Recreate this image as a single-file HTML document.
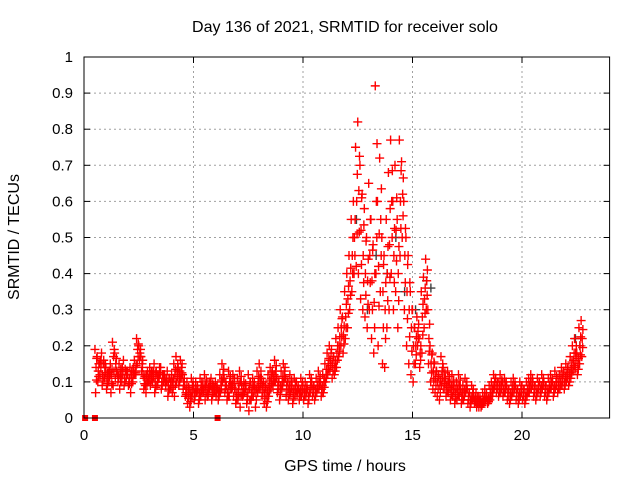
<!DOCTYPE html>
<html><head><meta charset="utf-8"><style>
body{margin:0;background:#fff;}
svg{display:block;font-family:"Liberation Sans",sans-serif;}
</style></head><body>
<svg id="chart" width="640" height="480" viewBox="0 0 640 480">
<rect width="640" height="480" fill="#fff"/>
<g id="grid"></g>
<g id="points"></g>
<rect x="84" y="57" width="525.6" height="361" fill="none" stroke="#000" stroke-width="1"/>
<g id="ticks"></g>
<text x="345" y="32" font-size="16" text-anchor="middle">Day 136 of 2021, SRMTID for receiver solo</text>
<text x="345" y="471" font-size="16" text-anchor="middle">GPS time / hours</text>
<text transform="translate(19,237) rotate(-90)" font-size="16" text-anchor="middle">SRMTID / TECUs</text>
</svg>
<script>
const xTicks=[0,5,10,15,20];
const yTicks=[0,0.1,0.2,0.3,0.4,0.5,0.6,0.7,0.8,0.9,1];
const yTickLabels=["0","0.1","0.2","0.3","0.4","0.5","0.6","0.7","0.8","0.9","1"];
const tStart=0.5, tStep=0.1;
const seriesA=[.19,.17,.15,.18,.16,
.14,.12,.15,.21,.18,.13,.15,.12,.16,.13,
.12,.14,.11,.16,.22,.2,.17,.12,.09,.13,
.14,.12,.15,.13,.11,.14,.12,.1,.13,.11,
.12,.15,.17,.14,.16,.12,.09,.1,.08,.11,
.09,.1,.08,.11,.09,.12,.1,.08,.11,.09,
.1,.08,.12,.15,.11,.09,.13,.1,.12,.08,
.11,.13,.09,.1,.08,.12,.1,.11,.09,.13,
.15,.11,.1,.09,.12,.14,.13,.16,.11,.1,
.13,.15,.11,.1,.12,.09,.11,.1,.08,.11,
.09,.1,.08,.12,.1,.09,.11,.13,.1,.12,
.15,.18,.2,.19,.17,.22,.25,.3,.28,.35,
.4,.45,.55,.6,.75,.82,.7,.62,.58,.5,
.65,.55,.48,.92,.6,.72,.5,.45,.55,.68,
.77,.6,.7,.55,.77,.71,.6,.5,.45,.35,
.3,.25,.28,.22,.35,.39,.44,.3,.2,.18,
.15,.13,.12,.17,.14,.11,.13,.1,.12,.09,
.1,.12,.08,.09,.11,.08,.07,.09,.06,.07,
.06,.05,.07,.08,.06,.09,.1,.12,.11,.1,
.12,.1,.11,.09,.08,.1,.11,.09,.08,.1,
.09,.08,.1,.11,.12,.1,.09,.11,.1,.12,
.1,.09,.11,.12,.1,.13,.11,.12,.14,.13,
.15,.14,.17,.2,.22,.18,.25,.27];
const seriesB=[.07,.1,.12,.09,.11,
.08,.1,.07,.09,.11,.12,.08,.1,.09,.11,
.09,.07,.1,.12,.15,.16,.13,.08,.07,.1,
.09,.1,.07,.09,.11,.08,.1,.09,.06,.08,
.07,.06,.1,.09,.11,.08,.06,.04,.03,.06,
.05,.07,.04,.06,.07,.05,.06,.08,.05,.07,
.06,.05,.07,.1,.07,.05,.06,.08,.06,.04,
.05,.03,.06,.07,.04,.02,.05,.06,.03,.07,
.08,.06,.04,.03,.06,.08,.09,.1,.07,.05,
.08,.1,.06,.05,.07,.04,.06,.07,.05,.06,
.05,.06,.04,.07,.06,.05,.07,.08,.06,.07,
.1,.12,.13,.11,.12,.14,.17,.2,.18,.22,
.25,.3,.35,.4,.42,.4,.33,.3,.28,.25,
.3,.22,.18,.4,.2,.35,.15,.14,.25,.3,
.4,.3,.35,.25,.45,.5,.3,.2,.15,.12,
.1,.15,.2,.14,.18,.25,.3,.15,.1,.08,
.07,.06,.05,.09,.08,.06,.07,.05,.06,.04,
.05,.06,.04,.05,.07,.04,.03,.05,.04,.03,
.03,.03,.04,.05,.04,.05,.06,.08,.07,.06,
.07,.06,.07,.05,.04,.06,.07,.05,.04,.06,
.05,.04,.06,.07,.08,.06,.05,.07,.06,.08,
.06,.05,.07,.08,.06,.08,.07,.08,.09,.08,
.1,.09,.11,.13,.14,.12,.15,.17];
const seriesC=[.14,.13,.16,.12,.14,
.11,.13,.12,.17,.15,.1,.12,.14,.11,.13,
.1,.12,.14,.13,.19,.18,.15,.11,.12,.11,
.12,.13,.1,.11,.14,.1,.12,.11,.09,.1,
.1,.12,.13,.12,.14,.1,.07,.07,.06,.09,
.07,.08,.06,.09,.08,.09,.07,.1,.08,.08,
.08,.07,.09,.12,.09,.07,.1,.09,.1,.06,
.08,.1,.07,.09,.06,.08,.07,.09,.07,.1,
.11,.09,.07,.06,.09,.11,.11,.13,.09,.08,
.1,.13,.09,.08,.09,.07,.09,.08,.07,.09,
.07,.08,.06,.1,.08,.07,.09,.1,.08,.1,
.12,.15,.16,.15,.14,.18,.2,.25,.23,.28,
.33,.38,.45,.5,.6,.63,.52,.45,.4,.38,
.45,.38,.32,.6,.42,.55,.35,.3,.4,.48,
.6,.45,.52,.4,.6,.62,.45,.35,.3,.25,
.2,.2,.24,.18,.28,.33,.38,.22,.15,.13,
.11,.1,.09,.13,.11,.09,.1,.08,.09,.07,
.08,.09,.06,.07,.09,.06,.05,.07,.05,.05,
.05,.04,.05,.06,.05,.07,.08,.1,.09,.08,
.09,.08,.09,.07,.06,.08,.09,.07,.06,.08,
.07,.06,.08,.09,.1,.08,.07,.09,.08,.1,
.08,.07,.09,.1,.08,.1,.09,.1,.11,.1,
.12,.11,.14,.16,.18,.15,.2,.22];
const grayTimes=[12.4,12.9,13.3,13.8,14.2,14.6,15.1,15.6,15.8,22.4,22.6];
const grayValues=[.55,.3,.45,.4,.5,.35,.3,.38,.36,.22,.2];
const zeroTimes=[0.05,0.5,6.1];

const X0=84,X1=609.6,Y0=418,Y1=57,XMAX=24,YMAX=1;
const xs=v=>X0+(X1-X0)*v/XMAX;
const ys=v=>Y0-(Y0-Y1)*v/YMAX;
const NS="http://www.w3.org/2000/svg";
function mk(tag,attrs,parent){const e=document.createElementNS(NS,tag);for(const k in attrs)e.setAttribute(k,attrs[k]);parent.appendChild(e);return e;}
const grid=document.getElementById('grid'),ticks=document.getElementById('ticks'),pts=document.getElementById('points');
xTicks.forEach(t=>{
  const x=xs(t);
  if(t>0){const g=mk('line',{x1:x,x2:x,y1:Y0,y2:Y1,stroke:'#a0a0a0','stroke-dasharray':'2,3'},grid);
  
  }
  mk('line',{x1:x,x2:x,y1:Y0,y2:Y0-6,stroke:'#000'},ticks);
  mk('line',{x1:x,x2:x,y1:Y1,y2:Y1+6,stroke:'#000'},ticks);
  const l=mk('text',{x:x,y:Y0+22,'font-size':15,'text-anchor':'middle'},ticks);
  l.textContent=t;
  
  
});
yTicks.forEach((t,i)=>{
  const y=ys(t);
  if(t>0&&t<1){const g=mk('line',{x1:X0,x2:X1,y1:y,y2:y,stroke:'#a0a0a0','stroke-dasharray':'2,3'},grid);
  
  }
  mk('line',{x1:X0,x2:X0+6,y1:y,y2:y,stroke:'#000'},ticks);
  mk('line',{x1:X1,x2:X1-6,y1:y,y2:y,stroke:'#000'},ticks);
  const l=mk('text',{x:X0-11,y:y+5,'font-size':15,'text-anchor':'end'},ticks);
  l.textContent=yTickLabels[i];
  
  
});
function plus(t,v,col){
  const x=xs(t),y=ys(v);
  const p=mk('path',{d:`M${x-4.5},${y}h9M${x},${y-4.5}v9`,stroke:col,'stroke-width':1.4,fill:'none'},pts);
  
  
}
grayTimes.forEach((t,i)=>plus(t+0.04,grayValues[i],'#404040'));
seriesA.forEach((v,i)=>plus(tStart+i*tStep,v,'#ff0000'));
seriesC.forEach((v,i)=>plus(tStart+i*tStep+0.05,v,'#ff0000'));
seriesB.forEach((v,i)=>plus(tStart+i*tStep+0.03,v,'#ff0000'));
seriesC.forEach((v,i)=>plus(tStart+i*tStep+0.08,(v+seriesA[i])/2,'#ff0000'));
seriesB.forEach((v,i)=>plus(tStart+i*tStep+0.07,(v+seriesC[i])/2,'#ff0000'));
zeroTimes.forEach(t=>{
  const r=mk('rect',{x:xs(t)-3,y:Y0-3,width:6,height:6,fill:'#ff0000'},pts);
  
  
});
</script>
</body></html>
